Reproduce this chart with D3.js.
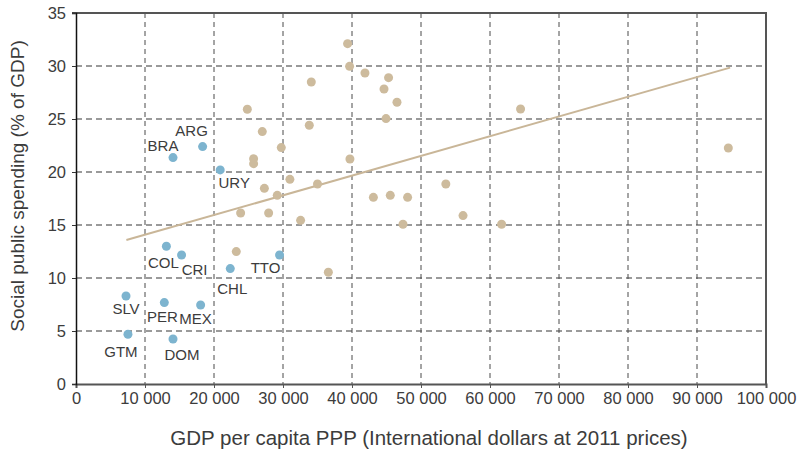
<!DOCTYPE html>
<html>
<head>
<meta charset="utf-8">
<script src="https://cdn.jsdelivr.net/npm/d3@7/dist/d3.min.js"></script>
<style>
  html, body { margin: 0; padding: 0; background: #fff; }
  svg text { font-family: "Liberation Sans", Arial, Helvetica, sans-serif; fill: #3c3c3c; }
</style>
</head>
<body>
<svg id="chart" width="797" height="452"></svg>
<script>
// Latin American countries (labelled, blue)
const latamCodes = ["ARG", "BRA", "URY", "COL", "CRI", "CHL", "TTO", "SLV", "PER", "MEX", "GTM", "DOM"];
const latamGdp   = [18350, 14060, 20900, 13100, 15300, 22360, 29500, 7250, 12800, 18060, 7530, 14060];
const latamSpend = [22.4, 21.36, 20.2, 12.99, 12.17, 10.89, 12.17, 8.3, 7.68, 7.45, 4.69, 4.25];

// Comparison countries (unlabelled, tan)
const otherGdp = [39360, 39650, 41880, 45300, 44640, 34100, 46520, 24830, 44930, 64430,
                  33810, 27000, 29750, 25740, 25740, 39700, 31000, 35000, 27300, 29170,
                  53600, 43100, 45550, 48060, 23860, 27920, 32550, 47390, 56090, 61680,
                  23230, 36570, 94540];
const otherSpend = [32.11, 29.97, 29.34, 28.9, 27.83, 28.49, 26.58, 25.92, 25.04, 25.94,
                    24.41, 23.81, 22.3, 21.26, 20.79, 21.23, 19.31, 18.87, 18.46, 17.8,
                    18.87, 17.61, 17.8, 17.61, 16.13, 16.13, 15.44, 15.07, 15.89, 15.07,
                    12.49, 10.54, 22.26];

// Fitted trend line end points
const trendGdp   = [7300, 94800];
const trendSpend = [13.58, 29.85];

const xTicks = [0, 10000, 20000, 30000, 40000, 50000, 60000, 70000, 80000, 90000, 100000];
const yTicks = [0, 5, 10, 15, 20, 25, 30, 35];

// Label placement around each labelled point (pixels)
const labelOffset = {
  ARG: [-11, -16], BRA: [-10, -12], URY: [14, 13], COL: [-3, 16],
  CRI: [13, 15],  CHL: [2, 20],   TTO: [-14, 13], SLV: [0, 13],
  PER: [-2, 14],  MEX: [-5, 14],  GTM: [-7, 17],  DOM: [9, 16]
};

const svg = d3.select("#chart");
const x = d3.scaleLinear().domain([0, 100000]).range([76, 766]);
const y = d3.scaleLinear().domain([0, 35]).range([384, 13]);
const fmt = v => d3.format(",")(v).replace(/,/g, " ");

// Grid
svg.append("g").selectAll("line").data(yTicks.filter(v => v > 0 && v < 35)).join("line")
  .attr("x1", x(0)).attr("x2", x(100000))
  .attr("y1", d => y(d)).attr("y2", d => y(d))
  .attr("stroke", "#7a7a7a").attr("stroke-width", 1.4).attr("stroke-dasharray", "6,4");
svg.append("g").selectAll("line").data(xTicks.filter(v => v > 0 && v < 100000)).join("line")
  .attr("x1", d => x(d)).attr("x2", d => x(d))
  .attr("y1", y(35)).attr("y2", y(0))
  .attr("stroke", "#4a4a4a").attr("stroke-width", 1).attr("stroke-dasharray", "5,4");

// Frame (top and right)
svg.append("line").attr("x1", x(0) - 4).attr("x2", x(100000) + 1)
  .attr("y1", y(35)).attr("y2", y(35)).attr("stroke", "#555").attr("stroke-width", 2);
svg.append("line").attr("x1", x(100000)).attr("x2", x(100000))
  .attr("y1", y(35)).attr("y2", y(0)).attr("stroke", "#555").attr("stroke-width", 2);

// Axes
const xAxis = svg.append("g").attr("transform", `translate(0,${y(0)})`)
  .call(d3.axisBottom(x).tickValues(xTicks).tickFormat(fmt).tickSize(4).tickPadding(4));
xAxis.select(".domain").attr("stroke", "#555").attr("stroke-width", 2);
xAxis.selectAll(".tick line").attr("stroke", "#555");
xAxis.selectAll("text").attr("font-size", 16.5).style("fill", "#3c3c3c");

const yAxis = svg.append("g").attr("transform", `translate(${x(0)},0)`)
  .call(d3.axisLeft(y).tickValues(yTicks).tickSize(4).tickPadding(6));
yAxis.select(".domain").attr("stroke", "#111").attr("stroke-width", 1.5);
yAxis.selectAll(".tick line").attr("stroke", "#333");
yAxis.selectAll("text").attr("font-size", 16.5).style("fill", "#3c3c3c");

// Trend line
svg.append("line")
  .attr("x1", x(trendGdp[0])).attr("y1", y(trendSpend[0]))
  .attr("x2", x(trendGdp[1])).attr("y2", y(trendSpend[1]))
  .attr("stroke", "#c9b698").attr("stroke-width", 2);

// Points
svg.append("g").selectAll("circle").data(d3.range(otherGdp.length)).join("circle")
  .attr("cx", i => x(otherGdp[i])).attr("cy", i => y(otherSpend[i])).attr("r", 4.5)
  .attr("fill", "#cdbb9d");
svg.append("g").selectAll("circle").data(d3.range(latamCodes.length)).join("circle")
  .attr("cx", i => x(latamGdp[i])).attr("cy", i => y(latamSpend[i])).attr("r", 4.5)
  .attr("fill", "#7db4cf");

// Country labels
svg.append("g").selectAll("text").data(d3.range(latamCodes.length)).join("text")
  .attr("x", i => x(latamGdp[i]) + labelOffset[latamCodes[i]][0])
  .attr("y", i => y(latamSpend[i]) + labelOffset[latamCodes[i]][1])
  .attr("text-anchor", "middle").attr("dy", "0.35em")
  .attr("font-size", 15)
  .text(i => latamCodes[i]);

// Axis titles
svg.append("text").attr("x", 429).attr("y", 445).attr("text-anchor", "middle")
  .attr("font-size", 20.5).text("GDP per capita PPP (International dollars at 2011 prices)");
svg.append("text").attr("transform", "translate(24,186) rotate(-90)").attr("text-anchor", "middle")
  .attr("font-size", 19).text("Social public spending (% of GDP)");
</script>
</body>
</html>
